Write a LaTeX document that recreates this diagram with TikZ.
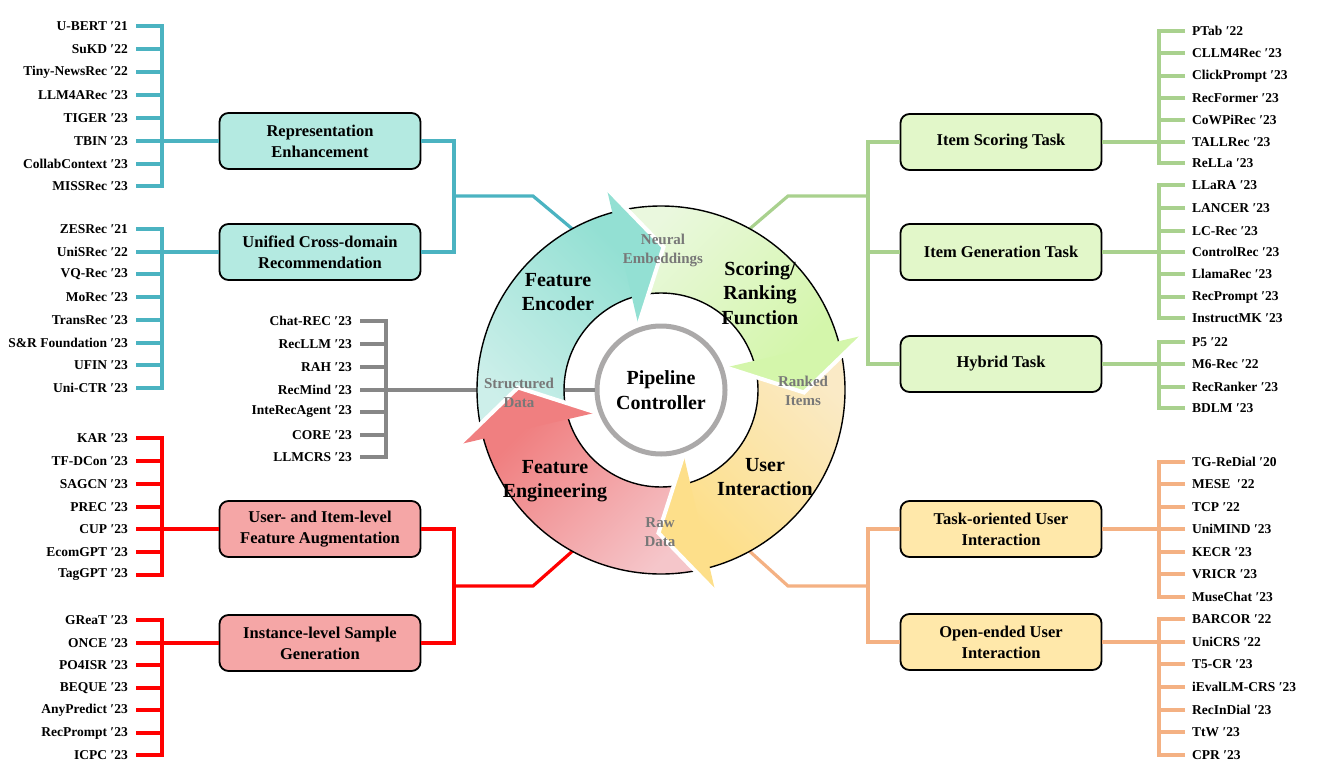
\documentclass[tikz,border=0pt]{standalone}
\usepackage{fontspec}
\setmainfont{Liberation Serif}
\usetikzlibrary{calc}
\definecolor{tealline}{HTML}{4BB3C1}
\definecolor{grayline}{HTML}{878787}
\definecolor{redline}{HTML}{FF0000}
\definecolor{greenline}{HTML}{A9D18E}
\definecolor{orangeline}{HTML}{F4B183}
\definecolor{tealbox}{HTML}{B4EAE1}
\definecolor{redbox}{HTML}{F5A6A6}
\definecolor{greenbox}{HTML}{E2F7C9}
\definecolor{orangebox}{HTML}{FFE8AA}
\definecolor{tealH}{HTML}{93E0D3}
\definecolor{tealL}{HTML}{CDEFEA}
\definecolor{greenH}{HTML}{D4F6AB}
\definecolor{greenL}{HTML}{EAF8DE}
\definecolor{yellowH}{HTML}{FDDF8A}
\definecolor{yellowL}{HTML}{FAEAC6}
\definecolor{redH}{HTML}{F07F80}
\definecolor{redL}{HTML}{F5C6CA}
\definecolor{flowgray}{HTML}{787878}
\definecolor{ctrlgray}{HTML}{ABA9A9}
\begin{document}
\begin{tikzpicture}[x=1pt,y=-1pt,
  item/.style={font=\fontsize{13.5}{16}\selectfont\bfseries, inner ysep=1pt},
  litem/.style={item, anchor=east, inner xsep=8pt},
  ritem/.style={item, anchor=west, inner xsep=7pt},
  catbox/.style={draw=black, line width=1.8pt, rounded corners=9pt, minimum width=201pt, minimum height=56pt, align=center, font=\fontsize{16.5}{21}\selectfont\bfseries, inner sep=2pt},
  lst/.style={line width=3.2pt},
  bar/.style={line width=3.2pt, line cap=rect},
  ringlab/.style={align=center, font=\fontsize{20}{24.5}\selectfont\bfseries},
  flowlab/.style={align=center, text=flowgray, font=\fontsize{15}{19}\selectfont\bfseries},
]
\useasboundingbox (0,0) rectangle (1319,776);

% ---------- left lists ----------
\foreach \n/\y [count=\i] in {U-BERT ′21/26, SuKD ′22/49, Tiny-NewsRec ′22/72, LLM4ARec ′23/95, TIGER ′23/118, TBIN ′23/141, CollabContext ′23/164, MISSRec ′23/186} {
  \node[litem] (a\i) at (136,\y) {\n};
  \draw[lst,tealline] (a\i.east) -- ++(26,0);
}
\draw[bar,tealline] ([xshift=26pt]a1.east) -- ([xshift=26pt]a8.east);

\foreach \n/\y [count=\i] in {ZESRec ′21/229, UniSRec ′22/252, VQ-Rec ′23/274, MoRec ′23/297, TransRec ′23/320, S\&R Foundation ′23/343, UFIN ′23/365, Uni-CTR ′23/388} {
  \node[litem] (b\i) at (136,\y) {\n};
  \draw[lst,tealline] (b\i.east) -- ++(26,0);
}
\draw[bar,tealline] ([xshift=26pt]b1.east) -- ([xshift=26pt]b8.east);

\foreach \n/\y [count=\i] in {Chat-REC ′23/321, RecLLM ′23/344, RAH ′23/367, RecMind ′23/390, InteRecAgent ′23/412, CORE ′23/435, LLMCRS ′23/457} {
  \node[litem] (g\i) at (360,\y) {\n};
  \draw[lst,grayline] (g\i.east) -- ++(26,0);
}
\draw[bar,grayline] ([xshift=26pt]g1.east) -- ([xshift=26pt]g7.east);

\foreach \n/\y [count=\i] in {KAR ′23/438, TF-DCon ′23/461, SAGCN ′23/484, PREC ′23/507, CUP ′23/529, EcomGPT ′23/552, TagGPT ′23/575} {
  \node[litem] (c\i) at (136,\y) {\n};
  \draw[lst,redline] (c\i.east) -- ++(26,0);
}
\draw[bar,redline] ([xshift=26pt]c1.east) -- ([xshift=26pt]c7.east);

\foreach \n/\y [count=\i] in {GReaT ′23/620, ONCE ′23/643, PO4ISR ′23/665, BEQUE ′23/688, AnyPredict ′23/710, RecPrompt ′23/733, ICPC ′23/755} {
  \node[litem] (d\i) at (136,\y) {\n};
  \draw[lst,redline] (d\i.east) -- ++(26,0);
}
\draw[bar,redline] ([xshift=26pt]d1.east) -- ([xshift=26pt]d7.east);

% ---------- right lists ----------
\foreach \n/\y [count=\i] in {PTab ′22/31, CLLM4Rec ′23/53, ClickPrompt ′23/76, RecFormer ′23/98, CoWPiRec ′23/120, TALLRec ′23/142, ReLLa ′23/163} {
  \node[ritem] (e\i) at (1185,\y) {\n};
  \draw[lst,greenline] (e\i.west) -- ++(-26,0);
}
\draw[bar,greenline] ([xshift=-26pt]e1.west) -- ([xshift=-26pt]e7.west);

\foreach \n/\y [count=\i] in {LLaRA ′23/185, LANCER ′23/208, LC-Rec ′23/231, ControlRec ′23/252, LlamaRec ′23/274, RecPrompt ′23/297, InstructMK ′23/318} {
  \node[ritem] (f\i) at (1185,\y) {\n};
  \draw[lst,greenline] (f\i.west) -- ++(-26,0);
}
\draw[bar,greenline] ([xshift=-26pt]f1.west) -- ([xshift=-26pt]f7.west);

\foreach \n/\y [count=\i] in {P5 ′22/342, M6-Rec ′22/364, RecRanker ′23/387, BDLM ′23/408} {
  \node[ritem] (h\i) at (1185,\y) {\n};
  \draw[lst,greenline] (h\i.west) -- ++(-26,0);
}
\draw[bar,greenline] ([xshift=-26pt]h1.west) -- ([xshift=-26pt]h4.west);

\foreach \n/\y [count=\i] in {TG-ReDial ′20/462, MESE~ ′22/484, TCP ′22/507, UniMIND ′23/529, KECR ′23/552, VRICR ′23/574, MuseChat ′23/597} {
  \node[ritem] (o\i) at (1185,\y) {\n};
  \draw[lst,orangeline] (o\i.west) -- ++(-26,0);
}
\draw[bar,orangeline] ([xshift=-26pt]o1.west) -- ([xshift=-26pt]o7.west);

\foreach \n/\y [count=\i] in {BARCOR ′22/619, UniCRS ′22/642, T5-CR ′23/664, iEvalLM-CRS ′23/687, RecInDial ′23/710, TtW ′23/732, CPR ′23/755} {
  \node[ritem] (p\i) at (1185,\y) {\n};
  \draw[lst,orangeline] (p\i.west) -- ++(-26,0);
}
\draw[bar,orangeline] ([xshift=-26pt]p1.west) -- ([xshift=-26pt]p7.west);

% ---------- category boxes ----------
\node[catbox, fill=tealbox] (RE) at (320,141) {Representation\\Enhancement};
\node[catbox, fill=tealbox] (UC) at (320,252) {Unified Cross-domain\\Recommendation};
\node[catbox, fill=redbox] (UA) at (320,529) {User- and Item-level\\Feature Augmentation};
\node[catbox, fill=redbox] (IS) at (320,643) {Instance-level Sample\\Generation};
\node[catbox, fill=greenbox] (IST) at (1001,142) {Item Scoring Task};
\node[catbox, fill=greenbox] (IGT) at (1001,252) {Item Generation Task};
\node[catbox, fill=greenbox] (HT) at (1001,364) {Hybrid Task};
\node[catbox, fill=orangebox] (TUI) at (1001,529) {Task-oriented User\\Interaction};
\node[catbox, fill=orangebox] (OUI) at (1001,642) {Open-ended User\\Interaction};

\draw[lst,tealline] (RE.west) -- (a6.east);
\draw[lst,tealline] (UC.west) -- (b2.east);
\draw[lst,redline] (UA.west) -- (c5.east);
\draw[lst,redline] (IS.west) -- (d2.east);
\draw[lst,greenline] (IST.east) -- (e6.west);
\draw[lst,greenline] (IGT.east) -- (f4.west);
\draw[lst,greenline] (HT.east) -- (h2.west);
\draw[lst,orangeline] (TUI.east) -- (o4.west);
\draw[lst,orangeline] (OUI.east) -- (p2.west);

% ---------- junctions toward the cycle ----------
\coordinate (tj) at (454,196);  \coordinate (tk) at (533,196); \coordinate (ringTL) at (576,232);
\coordinate (gj) at (868,196);  \coordinate (gk) at (788,196); \coordinate (ringTR) at (746,232);
\coordinate (rj) at (454,586);  \coordinate (rk) at (533,586); \coordinate (ringBL) at (576,548);
\coordinate (oj) at (868,586);  \coordinate (ok) at (788,586); \coordinate (ringBR) at (746,548);

\draw[lst,tealline] (RE.east) -| (tj);
\draw[lst,tealline] (UC.east) -| (tj);
\draw[lst,tealline] (tj) -- (tk) -- (ringTL);
\draw[lst,greenline] (IST.west) -| (gj);
\draw[lst,greenline] (HT.west) -| (gj);
\draw[lst,greenline] (IGT.west) -- (IGT.west -| gj);
\draw[lst,greenline] (gj) -- (gk) -- (ringTR);
\draw[lst,redline] (UA.east) -| (rj);
\draw[lst,redline] (IS.east) -| (rj);
\draw[lst,redline] (rj) -- (rk) -- (ringBL);
\draw[lst,orangeline] (TUI.west) -| (oj);
\draw[lst,orangeline] (OUI.west) -| (oj);
\draw[lst,orangeline] (oj) -- (ok) -- (ringBR);

% ---------- controller ----------
\node[circle, draw=ctrlgray, line width=5pt, fill=white, minimum size=128pt, inner sep=0pt, ringlab] (PC) at (661,390) {Pipeline\\Controller};
\draw[lst,grayline] (g4.east) -- (PC.west);

% ---------- cycle ring ----------
\shade[top color=tealH,bottom color=tealL,shading angle=-45]
  plot[variable=\t,domain=166:256,samples=50] ({661+184*cos(\t)},{390+184*sin(\t)})
  -- plot[variable=\t,domain=256:166,samples=50] ({661+97*cos(\t)},{390+97*sin(\t)}) -- cycle;
\shade[top color=greenL,bottom color=greenH,shading angle=45]
  plot[variable=\t,domain=256:346,samples=50] ({661+184*cos(\t)},{390+184*sin(\t)})
  -- plot[variable=\t,domain=346:256,samples=50] ({661+97*cos(\t)},{390+97*sin(\t)}) -- cycle;
\shade[top color=yellowL,bottom color=yellowH,shading angle=-45]
  plot[variable=\t,domain=346:436,samples=50] ({661+184*cos(\t)},{390+184*sin(\t)})
  -- plot[variable=\t,domain=436:346,samples=50] ({661+97*cos(\t)},{390+97*sin(\t)}) -- cycle;
\shade[top color=redH,bottom color=redL,shading angle=45]
  plot[variable=\t,domain=436:526,samples=50] ({661+184*cos(\t)},{390+184*sin(\t)})
  -- plot[variable=\t,domain=526:436,samples=50] ({661+97*cos(\t)},{390+97*sin(\t)}) -- cycle;
\draw[line width=1.4pt] (661,390) circle[radius=184];
\draw[line width=1.4pt] (661,390) circle[radius=97];

\foreach \k/\c in {0/tealH,1/greenH,2/yellowH,3/redH} {
  \pgfmathsetmacro\a{90*\k}
  \fill[\c] ({661+207*cos(254.9+\a)},{390+207*sin(254.9+\a)})
    -- ({661+143*cos(271+\a)},{390+143*sin(271+\a)})
    -- ({661+71*cos(251+\a)},{390+71*sin(251+\a)}) -- cycle;
  \draw[white,line width=4pt] ({661+209*cos(254.9+\a)},{390+209*sin(254.9+\a)})
    -- ({661+143*cos(271+\a)},{390+143*sin(271+\a)})
    -- ({661+69*cos(251+\a)},{390+69*sin(251+\a)});
}

% ---------- labels on the cycle ----------
\node[ringlab] (FE) at (558,292) {Feature\\Encoder};
\node[ringlab] (SR) at (760,293) {Scoring/\\Ranking\\Function};
\node[ringlab] (UI) at (765,477) {User\\Interaction};
\node[ringlab] (FG) at (555,481) {Feature\\Engineering};
\node[flowlab] (NE) at (663,250) {Neural\\Embeddings};
\node[flowlab] (RI) at (803,391) {Ranked\\Items};
\node[flowlab] (SD) at (519,393) {Structured\\Data};
\node[flowlab] (RD) at (660,532) {Raw\\Data};
\end{tikzpicture}
\end{document}
